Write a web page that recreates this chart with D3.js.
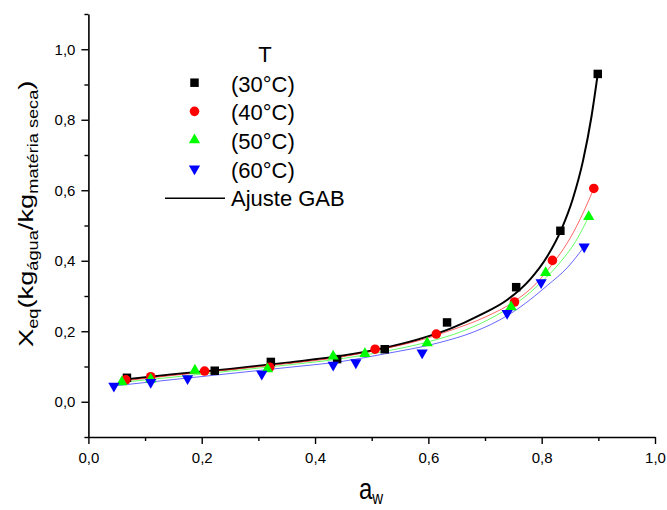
<!DOCTYPE html>
<html>
<head>
<meta charset="utf-8">
<script src="https://cdn.jsdelivr.net/npm/d3@7"></script>
<style>
  body { margin: 0; background: #fff; }
  svg { display: block; font-family: Arial, "Liberation Sans", sans-serif; }
</style>
</head>
<body>
<script>
  // measured points (aw, Xeq) per temperature
  const aw30 = [0.068, 0.223, 0.322, 0.439, 0.523, 0.633, 0.755, 0.833, 0.899];
  const x30  = [0.068, 0.088, 0.113, 0.121, 0.149, 0.225, 0.325, 0.485, 0.930];
  const aw40 = [0.066, 0.110, 0.205, 0.320, 0.506, 0.614, 0.752, 0.819, 0.892];
  const x40  = [0.062, 0.071, 0.087, 0.098, 0.149, 0.192, 0.283, 0.401, 0.605];
  const aw50 = [0.059, 0.110, 0.188, 0.316, 0.432, 0.488, 0.598, 0.746, 0.807, 0.883];
  const x50  = [0.056, 0.064, 0.089, 0.093, 0.129, 0.136, 0.167, 0.269, 0.366, 0.525];
  const aw60 = [0.045, 0.110, 0.175, 0.306, 0.432, 0.472, 0.589, 0.739, 0.799, 0.875];
  const x60  = [0.045, 0.055, 0.066, 0.079, 0.104, 0.111, 0.139, 0.251, 0.338, 0.440];

  // GAB fit curves
  const fitAw30 = [0.068, 0.15, 0.25, 0.35, 0.45, 0.52, 0.58, 0.64, 0.69, 0.74, 0.78, 0.81, 0.835, 0.855, 0.873, 0.888, 0.899];
  const fitX30  = [0.064, 0.078, 0.093, 0.111, 0.131, 0.152, 0.176, 0.208, 0.245, 0.290, 0.348, 0.413, 0.490, 0.576, 0.684, 0.810, 0.930];
  const fitAw40 = [0.066, 0.15, 0.25, 0.35, 0.45, 0.52, 0.58, 0.64, 0.70, 0.752, 0.79, 0.82, 0.845, 0.867, 0.892];
  const fitX40  = [0.060, 0.075, 0.091, 0.108, 0.128, 0.150, 0.172, 0.203, 0.240, 0.285, 0.335, 0.393, 0.450, 0.515, 0.605];
  const fitAw50 = [0.059, 0.15, 0.25, 0.35, 0.45, 0.52, 0.60, 0.66, 0.72, 0.76, 0.80, 0.835, 0.86, 0.883];
  const fitX50  = [0.055, 0.070, 0.087, 0.104, 0.123, 0.142, 0.170, 0.200, 0.245, 0.285, 0.340, 0.400, 0.455, 0.525];
  const fitAw60 = [0.045, 0.15, 0.25, 0.35, 0.45, 0.52, 0.62, 0.68, 0.74, 0.78, 0.81, 0.845, 0.875];
  const fitX60  = [0.045, 0.063, 0.080, 0.097, 0.115, 0.135, 0.168, 0.198, 0.245, 0.290, 0.330, 0.380, 0.440];

  const seriesNames = ["(30°C)", "(40°C)", "(50°C)", "(60°C)"];
  const seriesColors = ["#000000", "#ff0000", "#00ff00", "#0000ff"];
  const fitLabel = "Ajuste GAB";
  const legendTitle = "T";
  const xTicks = [0, 0.2, 0.4, 0.6, 0.8, 1.0];
  const yTicks = [0, 0.2, 0.4, 0.6, 0.8, 1.0];

  const width = 667, height = 510;
  const svg = d3.select('body').append('svg')
      .attr('width', width)
      .attr('height', height);

  const x = d3.scaleLinear().domain([0, 1]).range([88.4, 655]);
  const y = d3.scaleLinear().domain([-0.1, 1.1]).range([437, 14]);
  const fmt = d => d3.format('.1f')(d).replace('.', ',');

  // minor ticks
  const xMinor = d3.range(0.1, 1.0, 0.2);
  const yMinor = [-0.1].concat(d3.range(0.1, 1.11, 0.2));

  svg.append('g')
    .attr('transform', `translate(0,${y(-0.1)})`)
    .call(d3.axisBottom(x).tickValues(xMinor).tickSize(4).tickFormat(''))
    .call(g => g.select('.domain').remove());
  svg.append('g')
    .attr('transform', `translate(${x(0)},0)`)
    .call(d3.axisLeft(y).tickValues(yMinor).tickSize(4).tickFormat(''))
    .call(g => g.select('.domain').remove());

  // major axes
  const xAxis = svg.append('g')
    .attr('transform', `translate(0,${y(-0.1)})`)
    .call(d3.axisBottom(x).tickValues(xTicks).tickSize(7).tickSizeOuter(0).tickPadding(8).tickFormat(fmt));
  const yAxis = svg.append('g')
    .attr('transform', `translate(${x(0)},0)`)
    .call(d3.axisLeft(y).tickValues(yTicks).tickSize(7).tickSizeOuter(0).tickPadding(6).tickFormat(fmt));

  svg.selectAll('.tick line').attr('stroke', '#000').attr('stroke-width', 1.4);
  svg.selectAll('.domain').attr('stroke', '#000').attr('stroke-width', 1.6);
  svg.selectAll('.tick text').attr('font-size', 15).attr('font-family', 'Arial, "Liberation Sans", sans-serif').attr('fill', '#000');

  // fit lines
  const fits = [
    {aw: fitAw30, v: fitX30, w: 2, op: 1},
    {aw: fitAw40, v: fitX40, w: 1, op: 0.6},
    {aw: fitAw50, v: fitX50, w: 1, op: 0.6},
    {aw: fitAw60, v: fitX60, w: 1, op: 0.6}
  ];
  const line = d3.line().x(d => x(d[0])).y(d => y(d[1])).curve(d3.curveMonotoneX);
  fits.forEach((f, i) => {
    svg.append('path')
      .datum(d3.zip(f.aw, f.v))
      .attr('d', line)
      .attr('fill', 'none')
      .attr('stroke', seriesColors[i])
      .attr('stroke-width', f.w)
      .attr('stroke-opacity', f.op);
  });

  // markers
  const symbols = [
    d3.symbol().type(d3.symbolSquare).size(72),
    d3.symbol().type(d3.symbolCircle).size(72),
    d3.symbol().type(d3.symbolTriangle).size(55),
    d3.symbol().type(d3.symbolTriangle).size(55)
  ];
  const rot = [0, 0, 0, 180];
  const pts = [[aw30, x30], [aw40, x40], [aw50, x50], [aw60, x60]];
  pts.forEach((p, i) => {
    svg.append('g').selectAll('path')
      .data(d3.zip(p[0], p[1]))
      .enter().append('path')
      .attr('d', symbols[i])
      .attr('transform', d => `translate(${x(d[0])},${y(d[1])}) rotate(${rot[i]})`)
      .attr('fill', seriesColors[i]);
  });

  // legend
  const lg = svg.append('g').attr('font-size', 22).attr('fill', '#000');
  lg.append('text').attr('x', 265).attr('y', 61.7).attr('text-anchor', 'middle').text(legendTitle);
  seriesNames.forEach((n, i) => {
    const by = 91.7 + i * 28.65;
    lg.append('path')
      .attr('d', symbols[i])
      .attr('transform', `translate(194.5,${by - 9}) rotate(${rot[i]})`)
      .attr('fill', seriesColors[i]);
    lg.append('text').attr('x', 231).attr('y', by).text(n);
  });
  const fy = 91.7 + 4 * 28.65;
  lg.append('line').attr('x1', 165).attr('x2', 225).attr('y1', fy - 8).attr('y2', fy - 8)
    .attr('stroke', '#000').attr('stroke-width', 1.5);
  lg.append('text').attr('x', 231).attr('y', fy).text(fitLabel);

  // axis titles
  const xt = svg.append('text')
    .attr('transform', 'translate(359,499) scale(1,1.22)')
    .attr('font-size', 24);
  xt.append('tspan').text('a');
  xt.append('tspan').attr('font-size', 15).attr('dy', 4).text('w');

  const yt = svg.append('text')
    .attr('transform', 'translate(32.5,347) rotate(-90) scale(1.3,1)')
    .attr('font-size', 21);
  yt.append('tspan').text('X');
  yt.append('tspan').attr('font-size', 14).attr('dy', 5).text('eq');
  yt.append('tspan').attr('dy', -5).text('(kg');
  yt.append('tspan').attr('font-size', 14).attr('dy', 5).text('água');
  yt.append('tspan').attr('dy', -5).text('/kg');
  yt.append('tspan').attr('font-size', 14).attr('dy', 5).text('matéria seca');
  yt.append('tspan').attr('dy', -5).text(')');
</script>
</body>
</html>
